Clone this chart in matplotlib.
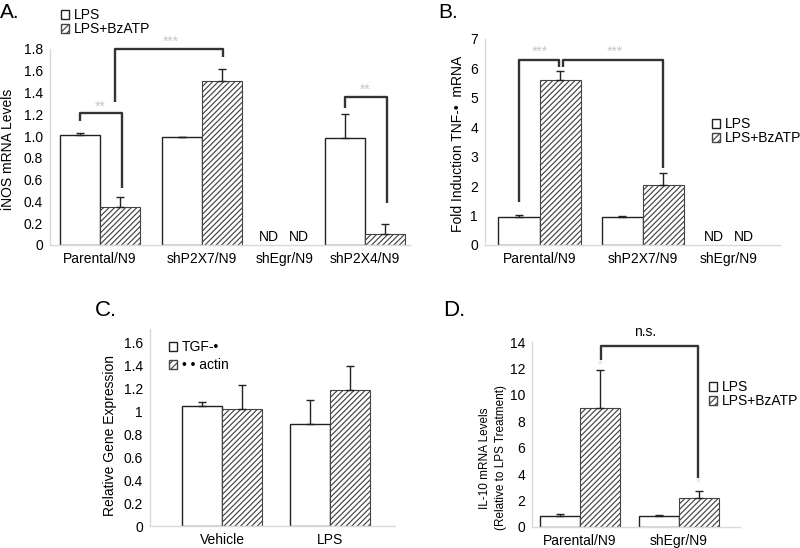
import numpy as np
import matplotlib.pyplot as plt
from matplotlib.patches import Patch

plt.rcParams['font.family'] = ['Liberation Sans', 'DejaVu Sans']
plt.rcParams['hatch.linewidth'] = 0.85

W, H = 800, 548

# ---- data ----
groups_a = ['Parental/N9', 'shP2X7/N9', 'shEgr/N9', 'shP2X4/N9']
lps_a = [1.01, 0.99, np.nan, 0.98]
lps_err_a = [0.02, 0.005, np.nan, 0.22]
bz_a = [0.35, 1.51, np.nan, 0.10]
bz_err_a = [0.09, 0.11, np.nan, 0.09]

groups_b = ['Parental/N9', 'shP2X7/N9', 'shEgr/N9']
lps_b = [0.96, 0.96, np.nan]
lps_err_b = [0.05, 0.01, np.nan]
bz_b = [5.60, 2.04, np.nan]
bz_err_b = [0.32, 0.41, np.nan]

groups_c = ['Vehicle', 'LPS']
tgf_c = [1.05, 0.89]
tgf_err_c = [0.03, 0.21]
actin_c = [1.02, 1.19]
actin_err_c = [0.21, 0.21]

groups_d = ['Parental/N9', 'shEgr/N9']
lps_d = [0.86, 0.86]
lps_err_d = [0.1, 0.05]
bz_d = [9.0, 2.2]
bz_err_d = [2.9, 0.5]

HATCH = '//////'
fig = plt.figure(figsize=(W / 100, H / 100), dpi=100)


def axes_px(left, top, right, bottom):
    return fig.add_axes([left / W, 1 - bottom / H, (right - left) / W, (bottom - top) / H])


def style(ax, xmax, ymax):
    for s in ['top', 'right']:
        ax.spines[s].set_visible(False)
    for s in ['left', 'bottom']:
        ax.spines[s].set_color('#d9d9d9')
        ax.spines[s].set_linewidth(1)
    ax.tick_params(length=0, labelsize=10, pad=5)
    ax.set_xlim(0, xmax)
    ax.set_ylim(0, ymax)


def bars(ax, pos, a, a_err, b, b_err, w=40, lw_a=1.0):
    pos = np.array(pos, float)
    ax.bar(pos - w / 2, a, w, color='white', edgecolor='#222222', linewidth=lw_a)
    ax.bar(pos + w / 2, b, w, color='white', edgecolor='#444444', hatch=HATCH, linewidth=0.8)
    z = np.zeros(len(pos))
    ax.errorbar(pos - w / 2, a, yerr=[z, a_err], fmt='none', ecolor='#222222',
                elinewidth=1, capsize=3, capthick=1)
    ax.errorbar(pos + w / 2, b, yerr=[z, b_err], fmt='none', ecolor='#222222',
                elinewidth=1, capsize=3, capthick=1)


def bracket(ax, x1, x2, y, y1, y2):
    ax.plot([x1, x1, x2, x2], [y1, y, y, y2], color='#333333', lw=1.7,
            clip_on=False, solid_capstyle='butt')


def legend(x, y, labels, spacing=0.0):
    handles = [Patch(facecolor='white', edgecolor='#222222', label=labels[0]),
               Patch(facecolor='white', edgecolor='#444444', hatch='/////', label=labels[1])]
    fig.legend(handles=handles, loc='upper left', bbox_to_anchor=(x / W, 1 - y / H),
               frameon=False, fontsize=10, handlelength=0.6, handleheight=0.6,
               handletextpad=0.3, labelspacing=spacing, borderpad=0, borderaxespad=0)


star_col = '#c8c8c8'

# ---- Panel A ----
pos_a = [50, 152, 235, 315]
ax = axes_px(50, 49, 410, 245)
style(ax, 360, 1.8)
bars(ax, pos_a, lps_a, lps_err_a, bz_a, bz_err_a)
ax.set_xticks(pos_a, groups_a)
ax.set_yticks(np.arange(0, 1.81, 0.2),
              ['0'] + ['%.1f' % v for v in np.arange(0.2, 1.81, 0.2)])
for i, v in enumerate(lps_a):
    if np.isnan(v):
        ax.text(pos_a[i] - 16, 0.01, 'ND', ha='center', va='bottom', fontsize=10)
        ax.text(pos_a[i] + 14, 0.01, 'ND', ha='center', va='bottom', fontsize=10)
bracket(ax, 30, 72, 1.21, 1.14, 0.52)
ax.text(50, 1.27, '**', ha='center', va='center', color=star_col, fontsize=10)
bracket(ax, 65, 173, 1.80, 1.31, 1.73)
ax.text(121, 1.87, '***', ha='center', va='center', color=star_col, fontsize=10)
bracket(ax, 295, 337, 1.36, 1.26, 0.39)
ax.text(315, 1.43, '**', ha='center', va='center', color=star_col, fontsize=10)
fig.text(8 / W, 1 - 149 / H, 'iNOS mRNA Levels', rotation=90, ha='center', va='center', fontsize=10)
legend(61, 8, ['LPS', 'LPS+BzATP'])
fig.text(0, 1 - 12 / H, 'A.', ha='left', va='center', fontsize=15)

# ---- Panel B ----
pos_b = [54.5, 157.5, 244]
ax = axes_px(485, 39, 780, 245)
style(ax, 295, 7)
bars(ax, pos_b, lps_b, lps_err_b, bz_b, bz_err_b, w=41)
ax.set_xticks(pos_b, groups_b)
ax.set_yticks(range(0, 8))
for i, v in enumerate(lps_b):
    if np.isnan(v):
        ax.text(pos_b[i] - 15, 0.03, 'ND', ha='center', va='bottom', fontsize=10)
        ax.text(pos_b[i] + 15, 0.03, 'ND', ha='center', va='bottom', fontsize=10)
bracket(ax, 34, 74, 6.30, 1.47, 6.06)
bracket(ax, 78, 178, 6.30, 6.06, 2.62)
ax.text(55, 6.56, '***', ha='center', va='center', color=star_col, fontsize=10)
ax.text(130, 6.56, '***', ha='center', va='center', color=star_col, fontsize=10)
fig.text(458 / W, 1 - 144 / H, 'Fold Induction TNF-\u2022  mRNA', rotation=90,
         ha='center', va='center', fontsize=10)
legend(712, 117, ['LPS', 'LPS+BzATP'])
fig.text(438 / W, 1 - 12 / H, 'B.', ha='left', va='center', fontsize=15)

# ---- Panel C ----
pos_c = [72, 180]
ax = axes_px(150, 329, 395, 526)
style(ax, 245, 1.72)
bars(ax, pos_c, tgf_c, tgf_err_c, actin_c, actin_err_c)
ax.set_xticks(pos_c, groups_c)
ax.set_yticks(np.arange(0, 1.61, 0.2), ['0', '0.2', '0.4', '0.6', '0.8', '1', '1.2', '1.4', '1.6'])
fig.text(110 / W, 1 - 435 / H, 'Relative Gene Expression', rotation=90,
         ha='center', va='center', fontsize=10)
legend(169, 340, ['TGF-\u2022', '\u2022 \u2022 actin'], spacing=0.3)
fig.text(95 / W, 1 - 310 / H, 'C.', ha='left', va='center', fontsize=16)

# ---- Panel D ----
pos_d = [48, 147]
ax = axes_px(532, 342, 740, 527)
style(ax, 208, 14)
bars(ax, pos_d, lps_d, lps_err_d, bz_d, bz_err_d)
ax.set_xticks(pos_d, groups_d)
ax.set_yticks(range(0, 15, 2))
bracket(ax, 68.5, 166, 13.69, 12.63, 3.69)
ax.text(113, 14.77, 'n.s.', ha='center', va='center', fontsize=10)
ax.text(68.5, 12.2, '*', ha='center', va='center', color='#dddddd', fontsize=9)
ax.text(166, 3.3, '*', ha='center', va='center', color='#dddddd', fontsize=9)
fig.text(493 / W, 1 - 458 / H, 'IL-10 mRNA Levels\n(Relative to LPS Treatment)', rotation=90,
         ha='center', va='center', fontsize=8.5, linespacing=1.35)
legend(709, 380, ['LPS', 'LPS+BzATP'])
fig.text(443 / W, 1 - 310 / H, 'D.', ha='left', va='center', fontsize=16)

fig.savefig('out.png', dpi=100)
